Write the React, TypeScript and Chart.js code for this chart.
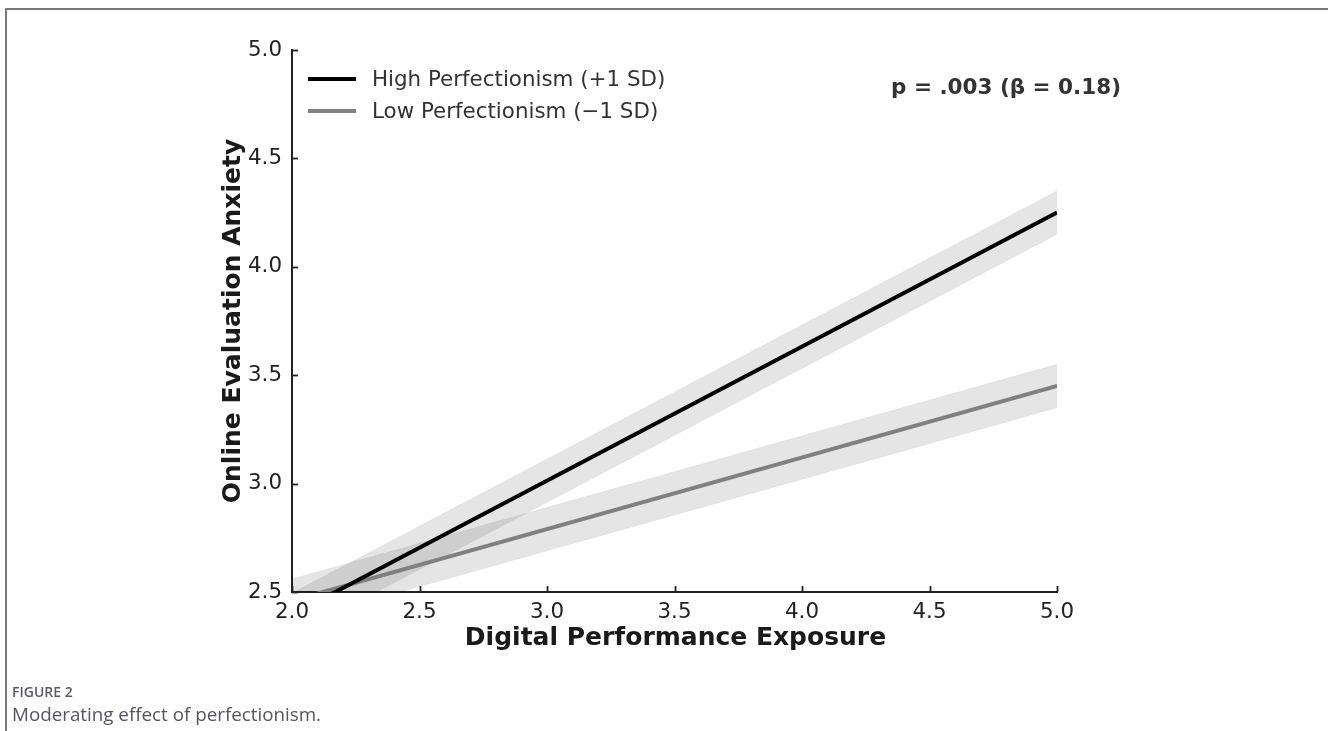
import React, { useEffect, useRef } from "react";
import { Chart, registerables } from "chart.js";

Chart.register(...registerables);

const xValues = [2.0, 5.0];
const highMean = [2.395, 4.25];
const highLower = [2.295, 4.15];
const highUpper = [2.495, 4.35];
const lowMean = [2.46, 3.45];
const lowLower = [2.36, 3.35];
const lowUpper = [2.56, 3.55];
const xTicks = [2.0, 2.5, 3.0, 3.5, 4.0, 4.5, 5.0];
const yTicks = [2.5, 3.0, 3.5, 4.0, 4.5, 5.0];
const seriesLabels = ["High Perfectionism (+1 SD)", "Low Perfectionism (\u22121 SD)"];
const annotationText = "p = .003 (\u03b2 = 0.18)";
const xTitle = "Digital Performance Exposure";
const yTitle = "Online Evaluation Anxiety";

const pts = (ys: number[]) => xValues.map((x, i) => ({ x, y: ys[i] }));

const FONT = "'DejaVu Sans', sans-serif";

const overlayPlugin = {
  id: "overlay",
  afterDraw(chart: any) {
    const { ctx, chartArea, scales } = chart;
    const xs = scales.x;
    const ys = scales.y;
    ctx.save();
    // inward ticks
    ctx.strokeStyle = "#222";
    ctx.lineWidth = 1.8;
    xTicks.forEach((v) => {
      const px = Math.round(xs.getPixelForValue(v)) + 0.5;
      ctx.beginPath();
      ctx.moveTo(px, chartArea.bottom);
      ctx.lineTo(px, chartArea.bottom - 6);
      ctx.stroke();
    });
    yTicks.forEach((v) => {
      const py = Math.round(ys.getPixelForValue(v)) + 0.5;
      ctx.beginPath();
      ctx.moveTo(chartArea.left, py);
      ctx.lineTo(chartArea.left + 6, py);
      ctx.stroke();
    });
    // axis titles
    ctx.fillStyle = "#1a1a1a";
    ctx.font = `bold 25px ${FONT}`;
    ctx.textAlign = "center";
    ctx.textBaseline = "middle";
    ctx.fillText(xTitle, (chartArea.left + chartArea.right) / 2 + 1, chartArea.bottom + 46);
    ctx.save();
    ctx.translate(chartArea.left - 59, (chartArea.top + chartArea.bottom) / 2);
    ctx.rotate(-Math.PI / 2);
    ctx.fillText(yTitle, 0, 0);
    ctx.restore();
    // legend
    const colors = ["#000000", "#808080"];
    ctx.font = `21.4px ${FONT}`;
    ctx.textAlign = "left";
    seriesLabels.forEach((lab, i) => {
      const y = chartArea.top + 29 + i * 32;
      ctx.strokeStyle = colors[i];
      ctx.lineWidth = 4;
      ctx.beginPath();
      ctx.moveTo(chartArea.left + 16, y);
      ctx.lineTo(chartArea.left + 64, y);
      ctx.stroke();
      ctx.fillStyle = "#333";
      ctx.fillText(lab, chartArea.left + 80, y + 1);
    });
    // annotation
    ctx.font = `bold 21.5px ${FONT}`;
    ctx.fillStyle = "#333";
    ctx.textAlign = "left";
    ctx.fillText(annotationText, 891, chartArea.top + 38);
    ctx.restore();
  },
};

export default function App() {
  const ref = useRef<HTMLCanvasElement>(null);
  useEffect(() => {
    if (!ref.current) return;
    const bandFill = "rgba(0,0,0,0.1)";
    const bandEdge = "rgba(0,0,0,0.05)";
    const chart = new Chart(ref.current, {
      type: "line",
      data: {
        datasets: [
          { label: seriesLabels[0], data: pts(highMean), borderColor: "#000", borderWidth: 4, pointRadius: 0, fill: false },
          { label: seriesLabels[1], data: pts(lowMean), borderColor: "#808080", borderWidth: 4, pointRadius: 0, fill: false },
          { label: "hl", data: pts(highLower), borderColor: bandEdge, borderWidth: 1, pointRadius: 0, fill: false },
          { label: "hu", data: pts(highUpper), borderColor: bandEdge, borderWidth: 1, pointRadius: 0, fill: "-1", backgroundColor: bandFill },
          { label: "ll", data: pts(lowLower), borderColor: bandEdge, borderWidth: 1, pointRadius: 0, fill: false },
          { label: "lu", data: pts(lowUpper), borderColor: bandEdge, borderWidth: 1, pointRadius: 0, fill: "-1", backgroundColor: bandFill },
        ],
      },
      options: {
        animation: false,
        responsive: false,
        layout: { padding: { top: 50, right: 271, left: 0, bottom: 0 } },
        plugins: { legend: { display: false }, tooltip: { enabled: false } },
        scales: {
          x: {
            type: "linear",
            min: 2,
            max: 5,
            afterFit: (s: any) => { s.height = 139; },
            afterBuildTicks: (s: any) => { s.ticks = xTicks.map((v) => ({ value: v })); },
            grid: { display: false },
            border: { display: true, color: "#222", width: 2 },
            ticks: { color: "#222", font: { family: FONT, size: 21.4 }, padding: 0, callback: (v: any) => Number(v).toFixed(1) },
          },
          y: {
            type: "linear",
            min: 2.5,
            max: 5,
            afterFit: (s: any) => { s.width = 292; },
            afterBuildTicks: (s: any) => { s.ticks = yTicks.map((v) => ({ value: v })); },
            grid: { display: false },
            border: { display: true, color: "#222", width: 2 },
            ticks: { color: "#222", font: { family: FONT, size: 21.4 }, padding: 2, callback: (v: any) => Number(v).toFixed(1) },
          },
        },
      },
      plugins: [overlayPlugin],
    });
    return () => chart.destroy();
  }, []);
  return (
    <div style={{ position: "fixed", left: 0, top: 0, width: 1328, height: 731, background: "#fff", overflow: "hidden" }}>
      <div style={{ position: "absolute", left: 5, top: 8, right: -2, bottom: -2, borderTop: "2px solid #77777d", borderLeft: "2px solid #77777d" }} />
      <canvas ref={ref} width={1328} height={731} style={{ position: "absolute", left: 0, top: 0 }} />
      <div style={{ position: "absolute", left: 12, top: 682, fontFamily: "'Open Sans', sans-serif", fontSize: 14, fontWeight: 600, color: "#5a5a66" }}>FIGURE 2</div>
      <div style={{ position: "absolute", left: 12, top: 701, fontFamily: "'Open Sans', sans-serif", fontSize: 18.8, color: "#555560" }}>Moderating effect of perfectionism.</div>
    </div>
  );
}
